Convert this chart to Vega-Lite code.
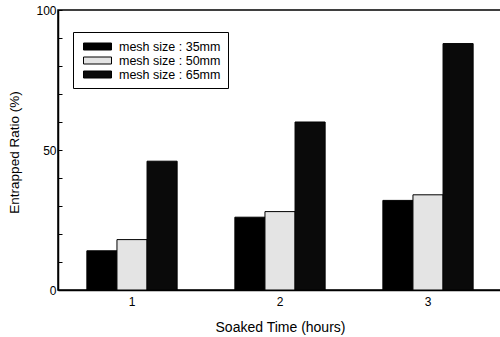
{
  "$schema": "https://vega.github.io/schema/vega-lite/v6.json",
  "width": 444,
  "height": 280,
  "autosize": {"type": "none"},
  "padding": {"left": 58, "top": 10, "right": 0, "bottom": 47},
  "background": "white",
  "config": {
    "view": {"stroke": "black", "strokeWidth": 1.5},
    "font": "Liberation Sans",
    "axis": {"labelFont": "Liberation Sans", "titleFont": "Liberation Sans", "labelColor": "black", "titleColor": "black", "titleFontWeight": "normal", "domainColor": "black", "domainWidth": 1.5, "tickColor": "black"}
  },
  "data": {
    "values": [
      {"time": "1", "mesh": "mesh size : 35mm", "ratio": 14},
      {"time": "1", "mesh": "mesh size : 50mm", "ratio": 18},
      {"time": "1", "mesh": "mesh size : 65mm", "ratio": 46},
      {"time": "2", "mesh": "mesh size : 35mm", "ratio": 26},
      {"time": "2", "mesh": "mesh size : 50mm", "ratio": 28},
      {"time": "2", "mesh": "mesh size : 65mm", "ratio": 60},
      {"time": "3", "mesh": "mesh size : 35mm", "ratio": 32},
      {"time": "3", "mesh": "mesh size : 50mm", "ratio": 34},
      {"time": "3", "mesh": "mesh size : 65mm", "ratio": 88}
    ]
  },
  "mark": {"type": "bar", "stroke": "black", "strokeWidth": 1},
  "encoding": {
    "x": {
      "field": "time",
      "type": "nominal",
      "scale": {"paddingInner": 0.39, "paddingOuter": 0.195},
      "axis": {"title": "Soaked Time (hours)", "labelAngle": 0, "ticks": false, "labelFontSize": 12, "labelPadding": 6, "titleFontSize": 14, "titleBaseline": "middle", "titleY": 37}
    },
    "xOffset": {
      "field": "mesh",
      "sort": ["mesh size : 35mm", "mesh size : 50mm", "mesh size : 65mm"],
      "scale": {"paddingInner": 0, "paddingOuter": 0}
    },
    "y": {
      "field": "ratio",
      "type": "quantitative",
      "scale": {"domain": [0, 100], "nice": false},
      "axis": {
        "title": "Entrapped Ratio (%)",
        "values": [0, 10, 20, 30, 40, 50, 60, 70, 80, 90, 100],
        "labelExpr": "datum.value % 50 == 0 ? datum.label : ''",
        "grid": false,
        "tickSize": -4,
        "labelPadding": 6,
        "labelFontSize": 12,
        "titleFontSize": 13.5,
        "titleAngle": -90,
        "titleBaseline": "middle",
        "titleAlign": "center",
        "titleX": -44,
        "titleY": 142
      }
    },
    "color": {
      "field": "mesh",
      "type": "nominal",
      "scale": {
        "domain": ["mesh size : 35mm", "mesh size : 50mm", "mesh size : 65mm"],
        "range": ["#000000", "#e4e4e4", "#0a0a0a"]
      },
      "legend": {
        "title": null,
        "orient": "none",
        "legendX": 15,
        "legendY": 22,
        "strokeColor": "black",
        "padding": 7,
        "symbolType": "M-0.571,-0.5H3.429V0.5H-0.571Z",
        "symbolSize": 196,
        "symbolStrokeColor": "black",
        "symbolStrokeWidth": 1,
        "symbolOpacity": 1,
        "labelFontSize": 12.5,
        "labelColor": "black",
        "labelOffset": 24,
        "rowPadding": -3
      }
    }
  }
}
